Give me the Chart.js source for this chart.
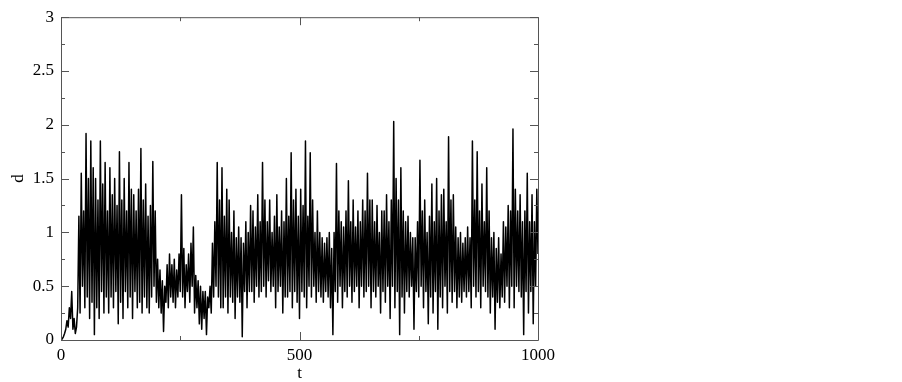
<!DOCTYPE html>
<html>
<head>
<meta charset="utf-8">
<script src="https://cdn.jsdelivr.net/npm/chart.js@4.4.1/dist/chart.umd.min.js"></script>
<style>
  html, body { margin: 0; padding: 0; background: #fff; }
</style>
</head>
<body>
<canvas id="chart" width="902" height="382"></canvas>
<script>
// ── Data (one sample every 2.5 time units) ──
const tStep = 2.5;
const dValues = [
  0.0, 0.01, 0.03, 0.06, 0.1, 0.18, 0.12, 0.3, 0.2, 0.45,
  0.1, 0.2, 0.06, 0.12, 0.3, 1.15, 0.25, 1.55, 0.5, 1.2,
  0.3, 1.92, 0.4, 1.5, 0.2, 1.85, 0.35, 1.6, 0.05, 1.5,
  0.3, 1.3, 0.2, 1.85, 0.45, 1.45, 0.25, 1.65, 0.4, 1.2,
  0.25, 1.6, 0.4, 1.35, 0.3, 1.5, 0.45, 1.25, 0.15, 1.75,
  0.35, 1.3, 0.2, 1.5, 0.45, 1.2, 0.3, 1.65, 0.4, 1.4,
  0.2, 1.35, 0.45, 1.2, 0.3, 1.4, 0.35, 1.78, 0.25, 1.3,
  0.4, 1.45, 0.3, 1.15, 0.25, 1.25, 0.4, 1.66, 0.5, 1.2,
  0.35, 0.75, 0.3, 0.65, 0.25, 0.55, 0.08, 0.5, 0.35, 0.7,
  0.3, 0.8, 0.4, 0.7, 0.35, 0.75, 0.3, 0.65, 0.4, 0.8,
  0.45, 1.35, 0.4, 0.85, 0.3, 0.7, 0.45, 0.8, 0.35, 0.9,
  0.5, 1.05, 0.25, 0.6, 0.3, 0.55, 0.15, 0.5, 0.1, 0.45,
  0.2, 0.45, 0.05, 0.4, 0.3, 0.5, 0.25, 0.9, 0.4, 1.1,
  0.5, 1.65, 0.4, 1.3, 0.3, 1.6, 0.3, 1.15, 0.4, 1.4,
  0.25, 1.3, 0.4, 1.0, 0.35, 1.2, 0.2, 0.95, 0.4, 1.05,
  0.35, 0.95, 0.03, 0.9, 0.45, 1.1, 0.3, 1.0, 0.45, 1.25,
  0.45, 1.2, 0.35, 1.05, 0.5, 1.35, 0.4, 1.1, 0.45, 1.65,
  0.5, 1.3, 0.4, 1.1, 0.55, 1.3, 0.45, 1.0, 0.5, 1.15,
  0.3, 1.35, 0.45, 1.05, 0.5, 1.2, 0.25, 1.1, 0.4, 1.5,
  0.4, 1.15, 0.45, 1.74, 0.3, 1.3, 0.45, 1.4, 0.35, 1.15,
  0.2, 1.4, 0.45, 1.25, 0.4, 1.85, 0.3, 1.15, 0.5, 1.74,
  0.4, 1.3, 0.5, 1.0, 0.35, 1.2, 0.45, 1.0, 0.4, 0.95,
  0.35, 0.9, 0.45, 0.95, 0.4, 1.0, 0.3, 0.85, 0.05, 1.0,
  0.45, 1.64, 0.35, 1.2, 0.5, 1.1, 0.3, 1.05, 0.45, 1.2,
  0.4, 1.48, 0.5, 1.1, 0.35, 1.3, 0.45, 1.05, 0.5, 1.2,
  0.3, 1.1, 0.5, 1.3, 0.4, 1.2, 0.45, 1.55, 0.5, 1.3,
  0.3, 1.3, 0.45, 1.1, 0.4, 1.25, 0.5, 1.0, 0.25, 1.2,
  0.45, 1.2, 0.35, 1.35, 0.5, 1.1, 0.2, 1.3, 0.5, 2.03,
  0.3, 1.5, 0.45, 1.3, 0.05, 1.6, 0.4, 1.2, 0.25, 1.1,
  0.45, 1.15, 0.4, 1.0, 0.5, 0.95, 0.1, 0.95, 0.45, 1.1,
  0.4, 1.67, 0.5, 1.2, 0.3, 1.3, 0.45, 1.0, 0.15, 1.15,
  0.4, 1.45, 0.25, 1.1, 0.45, 1.5, 0.1, 1.2, 0.4, 1.35,
  0.3, 1.4, 0.5, 1.1, 0.25, 1.89, 0.45, 1.3, 0.35, 1.35,
  0.45, 1.05, 0.3, 0.95, 0.4, 1.0, 0.35, 0.9, 0.45, 0.95,
  0.4, 1.05, 0.45, 0.95, 0.3, 1.85, 0.5, 1.3, 0.4, 1.75,
  0.45, 1.2, 0.3, 1.45, 0.5, 1.1, 0.45, 1.6, 0.4, 1.2,
  0.25, 0.95, 0.4, 1.0, 0.1, 0.85, 0.35, 0.95, 0.3, 0.8,
  0.4, 1.1, 0.35, 1.05, 0.5, 1.25, 0.3, 1.2, 0.5, 1.96,
  0.3, 1.4, 0.5, 1.2, 0.45, 1.35, 0.4, 1.1, 0.05, 1.2,
  0.45, 1.55, 0.25, 1.1, 0.45, 1.35, 0.15, 1.1, 0.5, 1.4,
  0.8
];
const xTicks = [0, 500, 1000];
const xMinorTicks = [250, 750];
const yTicks = [0, 0.5, 1, 1.5, 2, 2.5, 3];
const yMinorTicks = [0.25, 0.75, 1.25, 1.75, 2.25, 2.75];

const points = dValues.map((d, i) => ({ x: i * tStep, y: d }));

const FONT = { family: 'Liberation Serif', size: 17 };
const FRAME = '#555';

// ── Frame + inward ticks on all four sides ──────────────────
const frameTicks = {
  id: 'frameTicks',
  afterDatasetsDraw(chart) {
    const { ctx, chartArea: a, scales: { x, y } } = chart;
    ctx.save();
    ctx.strokeStyle = FRAME;
    ctx.lineWidth = 1;
    ctx.beginPath();
    ctx.rect(a.left + 0.5, a.top + 0.5, a.right - a.left, a.bottom - a.top);
    const vTick = (v, len) => {
      const px = Math.round(x.getPixelForValue(v)) + 0.5;
      ctx.moveTo(px, a.bottom); ctx.lineTo(px, a.bottom - len);
      ctx.moveTo(px, a.top);    ctx.lineTo(px, a.top + len);
    };
    const hTick = (v, len) => {
      const py = Math.round(y.getPixelForValue(v)) + 0.5;
      ctx.moveTo(a.left, py);  ctx.lineTo(a.left + len, py);
      ctx.moveTo(a.right, py); ctx.lineTo(a.right - len, py);
    };
    xTicks.forEach(v => vTick(v, 8));
    xMinorTicks.forEach(v => vTick(v, 4));
    yTicks.forEach(v => hTick(v, 8));
    yMinorTicks.forEach(v => hTick(v, 4));
    ctx.stroke();
    ctx.restore();
  }
};

new Chart(document.getElementById('chart'), {
  type: 'line',
  data: {
    datasets: [{
      data: points,
      borderColor: '#000',
      borderWidth: 1.5,
      borderJoinStyle: 'round',
      pointRadius: 0,
      tension: 0,
      fill: false
    }]
  },
  options: {
    responsive: false,
    animation: false,
    layout: { padding: { top: 7, right: 364, left: 0, bottom: 0 } },
    plugins: { legend: { display: false }, tooltip: { enabled: false } },
    scales: {
      x: {
        type: 'linear', min: 0, max: 1000,
        afterBuildTicks: s => { s.ticks = xTicks.map(v => ({ value: v })); },
        afterFit: s => { s.height = 42; },
        grid: { display: false, drawTicks: false },
        border: { display: false },
        ticks: { color: '#000', font: FONT, padding: 5, maxRotation: 0, callback: v => String(v) },
        title: { display: true, text: 't', color: '#000', font: FONT, padding: { top: 0, bottom: -2 } }
      },
      y: {
        min: 0, max: 3,
        afterBuildTicks: s => { s.ticks = yTicks.map(v => ({ value: v })); },
        afterFit: s => { s.width = 61; },
        grid: { display: false, drawTicks: false },
        border: { display: false },
        ticks: { color: '#000', font: FONT, padding: 7, callback: v => String(v) },
        title: { display: true, text: 'd', color: '#000', font: FONT, padding: { top: 8, bottom: 0 } }
      }
    }
  },
  plugins: [frameTicks]
});
</script>
</body>
</html>
